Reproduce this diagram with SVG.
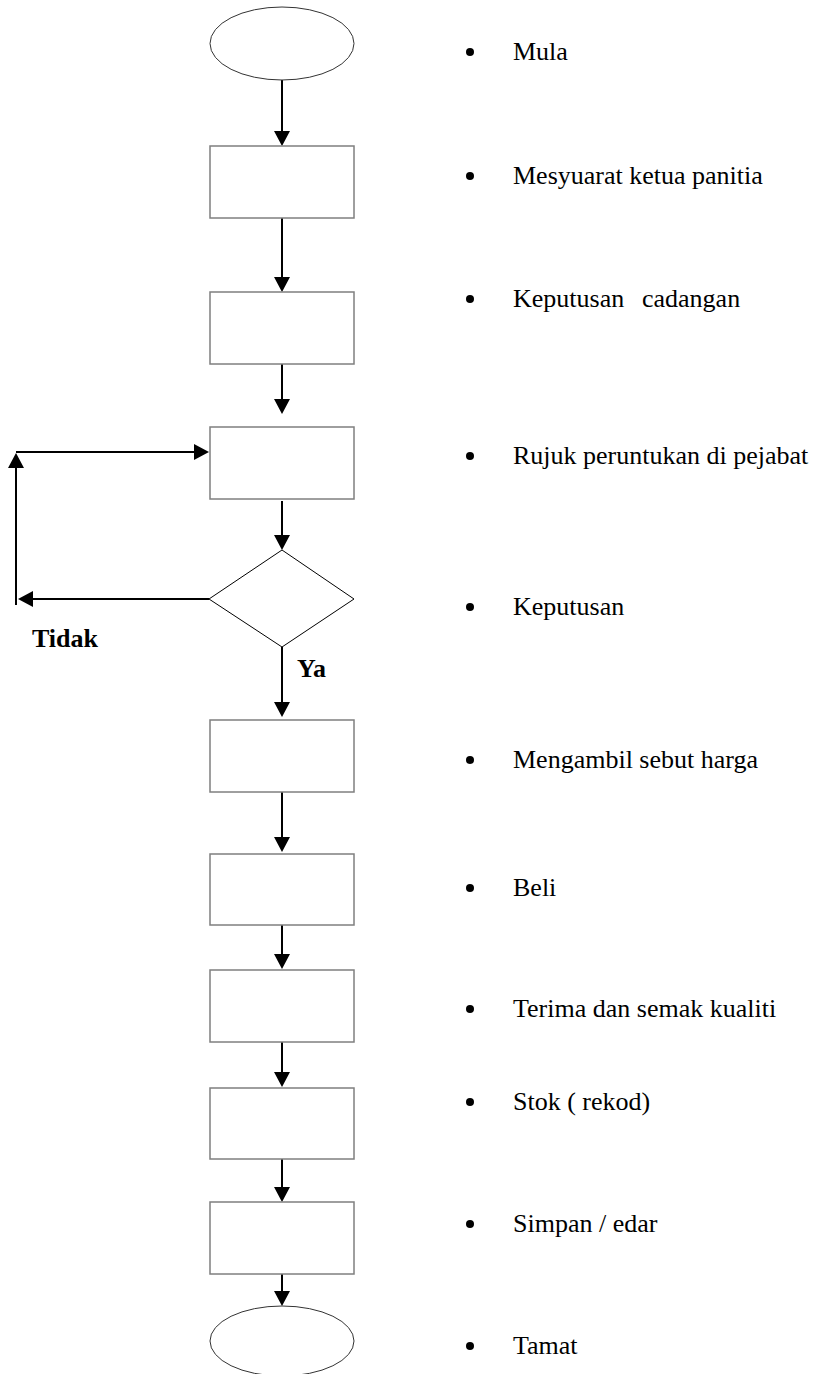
<svg xmlns="http://www.w3.org/2000/svg" width="820" height="1374" viewBox="0 0 820 1374">
  <style>
    .terminal { fill: #ffffff; stroke: #333333; stroke-width: 1; }
    .process { fill: #ffffff; stroke: #7f7f7f; stroke-width: 1.5; }
    .decision { fill: #ffffff; stroke: #000000; stroke-width: 1; }
    .flow { fill: none; stroke: #000000; stroke-width: 2; marker-end: url(#arrow); }
    .step { font-family: "Liberation Serif", "Times New Roman", serif; font-size: 26px; fill: #000000; }
    .branch { font-family: "Liberation Serif", "Times New Roman", serif; font-size: 26px; font-weight: bold; fill: #000000; }
    .bullet { fill: #000000; }
  </style>
  <defs>
    <!-- filled triangular head; the path end sits 10px behind the tip -->
    <marker id="arrow" markerUnits="userSpaceOnUse" markerWidth="15" markerHeight="16" viewBox="0 0 15 16" refX="5" refY="8" orient="auto">
      <path d="M0,0 L15,8 L0,16 Z" fill="#000000"/>
    </marker>
  </defs>

  <rect width="820" height="1374" fill="#ffffff"/>

  <!-- connectors -->
  <g id="connectors">
    <path class="flow" d="M282,80 L282,136"/>
    <path class="flow" d="M282,218 L282,282"/>
    <path class="flow" d="M282,364 L282,404"/>
    <path class="flow" d="M282,501 L282,540"/>
    <!-- "Tidak" loop back to the referral step -->
    <path class="flow" d="M209,599 L28,599"/>
    <path class="flow" d="M16,605 L16,463"/>
    <path class="flow" d="M16,452 L199,452"/>
    <!-- "Ya" branch -->
    <path class="flow" d="M282,647 L282,707"/>
    <path class="flow" d="M282,792 L282,842"/>
    <path class="flow" d="M282,925 L282,959"/>
    <path class="flow" d="M282,1039 L282,1077"/>
    <path class="flow" d="M282,1159 L282,1192"/>
    <path class="flow" d="M282,1272 L282,1296"/>
  </g>

  <!-- flow chart shapes -->
  <g id="start"><ellipse class="terminal" cx="282" cy="43.5" rx="72" ry="36.5"/></g>
  <g id="meeting"><rect class="process" x="210" y="146" width="144" height="72"/></g>
  <g id="proposal"><rect class="process" x="210" y="292" width="144" height="72"/></g>
  <g id="referral"><rect class="process" x="210" y="427" width="144" height="72"/></g>
  <g id="decision"><polygon class="decision" points="282,550 354,599 282,647 209,599"/></g>
  <g id="quotation"><rect class="process" x="210" y="720" width="144" height="72"/></g>
  <g id="purchase"><rect class="process" x="210" y="854" width="144" height="71"/></g>
  <g id="inspection"><rect class="process" x="210" y="970" width="144" height="72"/></g>
  <g id="stock"><rect class="process" x="210" y="1088" width="144" height="71"/></g>
  <g id="storage"><rect class="process" x="210" y="1202" width="144" height="72"/></g>
  <g id="end"><ellipse class="terminal" cx="282" cy="1341" rx="72" ry="35"/></g>

  <!-- branch labels -->
  <g id="label-no"><text class="branch" x="32" y="647">Tidak</text></g>
  <g id="label-yes"><text class="branch" x="297" y="677">Ya</text></g>

  <!-- step list -->
  <g id="steps">
    <circle class="bullet" cx="470" cy="52" r="4"/>
    <text class="step" x="513" y="60">Mula</text>
    <circle class="bullet" cx="470" cy="176" r="4"/>
    <text class="step" x="513" y="184">Mesyuarat ketua panitia</text>
    <circle class="bullet" cx="470" cy="299" r="4"/>
    <text class="step" x="513" y="307">Keputusan<tspan x="642">cadangan</tspan></text>
    <circle class="bullet" cx="470" cy="456" r="4"/>
    <text class="step" x="513" y="464">Rujuk peruntukan di pejabat</text>
    <circle class="bullet" cx="470" cy="607" r="4"/>
    <text class="step" x="513" y="615">Keputusan</text>
    <circle class="bullet" cx="470" cy="760" r="4"/>
    <text class="step" x="513" y="768">Mengambil sebut harga</text>
    <circle class="bullet" cx="470" cy="888" r="4"/>
    <text class="step" x="513" y="896">Beli</text>
    <circle class="bullet" cx="470" cy="1009" r="4"/>
    <text class="step" x="513" y="1017">Terima dan semak kualiti</text>
    <circle class="bullet" cx="470" cy="1102" r="4"/>
    <text class="step" x="513" y="1110">Stok ( rekod)</text>
    <circle class="bullet" cx="470" cy="1224" r="4"/>
    <text class="step" x="513" y="1232">Simpan / edar</text>
    <circle class="bullet" cx="470" cy="1346" r="4"/>
    <text class="step" x="513" y="1354">Tamat</text>
  </g>
</svg>
